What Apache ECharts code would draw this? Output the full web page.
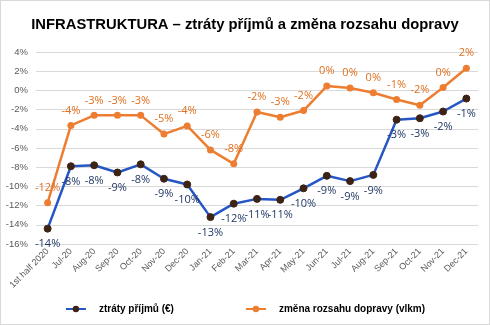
<!DOCTYPE html>
<html><head><meta charset="utf-8">
<script src="https://cdn.jsdelivr.net/npm/echarts@6/dist/echarts.min.js"></script>
<style>html,body{margin:0;padding:0;background:#fff}#c{width:488px;height:323px;border:1px solid #d9d9d9}</style>
</head><body><div id="c"></div>
<script>
const categories = ['1st half 2020','Jul-20','Aug-20','Sep-20','Oct-20','Nov-20','Dec-20','Jan-21','Feb-21','Mar-21','Apr-21','May-21','Jun-21','Jul-21','Aug-21','Sep-21','Oct-21','Nov-21','Dec-21'];
const revenueLoss = [-14.4,-7.9,-7.8,-8.55,-7.7,-9.2,-9.8,-13.2,-11.8,-11.3,-11.4,-10.2,-8.9,-9.45,-8.8,-3.05,-2.9,-2.2,-0.85];
const trafficChange = [-11.7,-3.65,-2.6,-2.6,-2.6,-4.55,-3.7,-6.2,-7.65,-2.25,-2.8,-2.1,0.45,0.25,-0.25,-0.95,-1.55,0.3,2.3];
const seriesNames = ['ztráty příjmů (€)','změna rozsahu dopravy (vlkm)'];
const yTicks = {min:-16,max:4,interval:2};

const chart = echarts.init(document.getElementById('c'));
const lblFmt = p => Math.round(p.value) + '%';
chart.setOption({
  animation:false,
  title:{text:'INFRASTRUKTURA – ztráty příjmů a změna rozsahu dopravy',left:'center',top:11,
    textStyle:{fontFamily:'Liberation Sans',fontWeight:'bold',fontSize:14.8,color:'#000'}},
  grid:{left:35,right:11,top:51,bottom:80},
  legend:{bottom:5,left:'center',itemGap:71,itemWidth:20,itemHeight:8,
    textStyle:{fontFamily:'Liberation Sans',fontWeight:'bold',fontSize:10,color:'#000',padding:[0,0,0,8]}},
  xAxis:{type:'category',data:categories,boundaryGap:true,
    axisLine:{show:true,lineStyle:{color:'#d9d9d9'}},axisTick:{show:false},
    axisLabel:{rotate:45,interval:0,fontFamily:'Liberation Sans',fontSize:9,color:'#595959',margin:6}},
  yAxis:{type:'value',min:yTicks.min,max:yTicks.max,interval:yTicks.interval,
    axisLabel:{formatter:'{value}%',fontFamily:'Liberation Sans',fontSize:9.5,color:'#595959',margin:8},
    splitLine:{lineStyle:{color:'#d9d9d9'}},axisLine:{show:false},axisTick:{show:false}},
  series:[
    {name:seriesNames[0],type:'line',data:revenueLoss,symbol:'circle',symbolSize:7,
      lineStyle:{color:'#2556C4',width:2.5},itemStyle:{color:'#3d2314',borderColor:'#3d2314'},
      label:{show:true,position:'bottom',distance:6,formatter:lblFmt,fontFamily:'Open Sans',fontSize:11,color:'#203864'},
      z:3},
    {name:seriesNames[1],type:'line',data:trafficChange,symbol:'circle',symbolSize:7,
      lineStyle:{color:'#ED7D31',width:2.5},itemStyle:{color:'#ED7D31'},
      label:{show:true,position:'top',distance:6,formatter:lblFmt,fontFamily:'Open Sans',fontSize:11,color:'#E0701F'},
      z:2}
  ]
});
</script></body></html>
